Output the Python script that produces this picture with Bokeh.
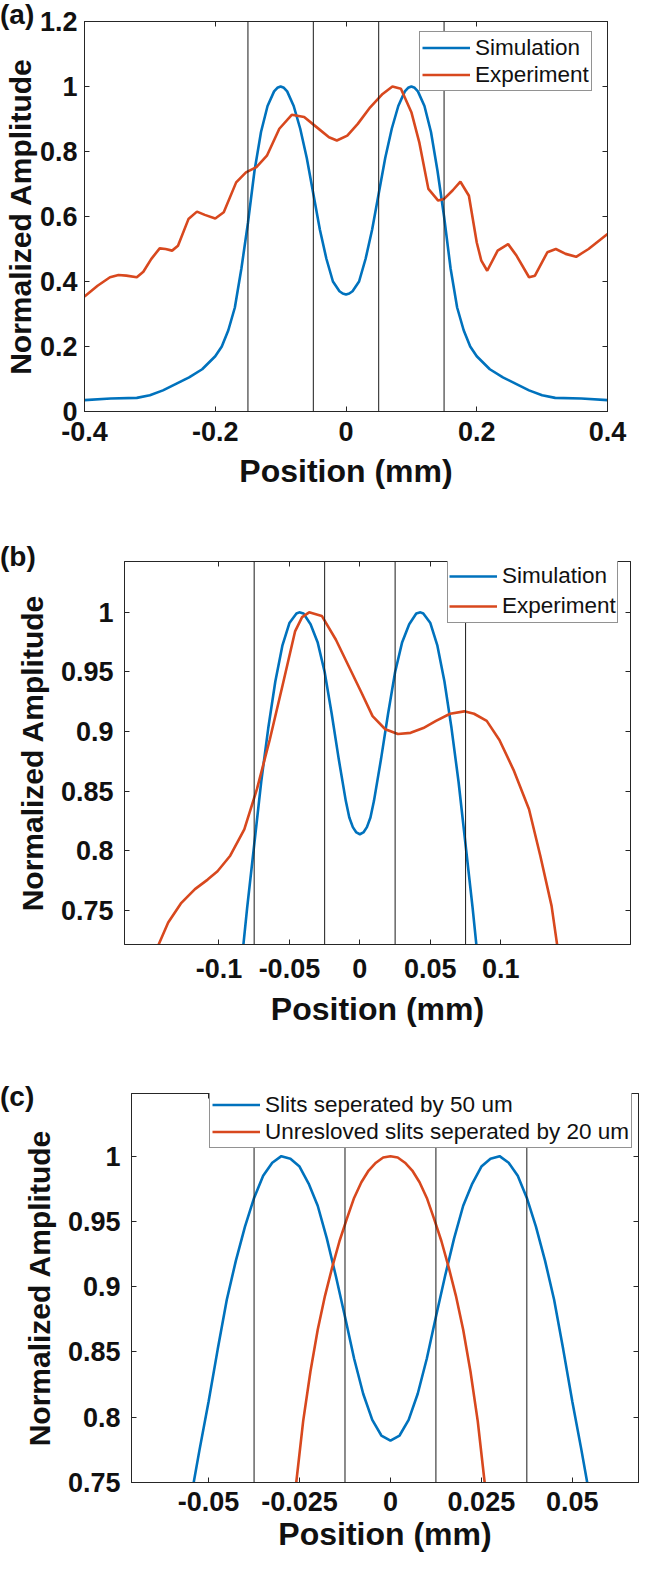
from bokeh.plotting import figure
from bokeh.models import (Range1d, FixedTicker, LinearAxis, Legend, LegendItem, Div,
                          Span, CustomJSTickFormatter, CustomLabelingPolicy)
from bokeh.layouts import column
from bokeh.embed import file_html
from bokeh.resources import INLINE

# ---------------- data ----------------
# panel (a)
a_sim_x = [-0.40, -0.36, -0.32, -0.30, -0.28, -0.26, -0.24, -0.22, -0.20, -0.19, -0.18, -0.17, -0.16,
           -0.15, -0.14, -0.13, -0.12, -0.11, -0.105, -0.10, -0.095, -0.09, -0.08, -0.07, -0.06, -0.05,
           -0.04, -0.03, -0.02, -0.01, -0.005, 0.00, 0.005, 0.01, 0.02, 0.03, 0.04, 0.05, 0.06, 0.07,
           0.08, 0.09, 0.095, 0.10, 0.105, 0.11, 0.12, 0.13, 0.14, 0.15, 0.16, 0.17, 0.18, 0.19, 0.20,
           0.22, 0.24, 0.26, 0.28, 0.30, 0.32, 0.36, 0.40]
a_sim_y = [0.035, 0.040, 0.042, 0.050, 0.065, 0.085, 0.105, 0.130, 0.170, 0.200, 0.250, 0.320, 0.440,
           0.580, 0.740, 0.860, 0.940, 0.985, 0.996, 1.000, 0.996, 0.985, 0.940, 0.870, 0.780, 0.670,
           0.560, 0.470, 0.400, 0.370, 0.363, 0.360, 0.363, 0.370, 0.400, 0.470, 0.560, 0.670, 0.780,
           0.870, 0.940, 0.985, 0.996, 1.000, 0.996, 0.985, 0.940, 0.860, 0.740, 0.600, 0.440, 0.320,
           0.250, 0.200, 0.170, 0.130, 0.105, 0.085, 0.065, 0.050, 0.042, 0.040, 0.035]
a_exp_x = [-0.400, -0.380, -0.361, -0.348, -0.336, -0.320, -0.310, -0.298, -0.285, -0.276, -0.266,
           -0.257, -0.241, -0.228, -0.216, -0.200, -0.187, -0.168, -0.153, -0.137, -0.121, -0.102,
           -0.083, -0.064, -0.045, -0.026, -0.014, 0.002, 0.018, 0.037, 0.056, 0.071, 0.084, 0.100,
           0.112, 0.126, 0.141, 0.150, 0.163, 0.175, 0.188, 0.200, 0.207, 0.216, 0.232, 0.248, 0.261,
           0.280, 0.289, 0.308, 0.321, 0.336, 0.352, 0.371, 0.400]
a_exp_y = [0.354, 0.387, 0.413, 0.420, 0.418, 0.413, 0.430, 0.469, 0.502, 0.500, 0.495, 0.510, 0.592,
           0.615, 0.605, 0.594, 0.613, 0.705, 0.736, 0.752, 0.787, 0.870, 0.913, 0.906, 0.875, 0.844,
           0.834, 0.849, 0.885, 0.936, 0.977, 1.000, 0.993, 0.921, 0.829, 0.685, 0.649, 0.654, 0.680,
           0.707, 0.664, 0.520, 0.464, 0.433, 0.495, 0.515, 0.479, 0.413, 0.418, 0.490, 0.500, 0.485,
           0.476, 0.500, 0.546]
a_slit_edges = [-0.15, -0.05, 0.05, 0.15]
a_xticks = [-0.4, -0.2, 0, 0.2, 0.4]
a_yticks = [0, 0.2, 0.4, 0.6, 0.8, 1, 1.2]
a_xlim = (-0.4, 0.4)
a_ylim = (0.0, 1.2)
a_labels = ["Simulation", "Experiment"]

# panel (b)
b_sim_x = [-0.0845, -0.080, -0.075, -0.070, -0.065, -0.060, -0.055, -0.050, -0.045, -0.043, -0.040,
           -0.035, -0.030, -0.025, -0.020, -0.015, -0.010, -0.0075, -0.005, -0.0025, 0.000, 0.0025,
           0.005, 0.0075, 0.010, 0.015, 0.020, 0.025, 0.030, 0.035, 0.040, 0.043, 0.045, 0.050, 0.055,
           0.060, 0.065, 0.070, 0.075, 0.080, 0.0845]
b_sim_y = [0.700, 0.752, 0.805, 0.858, 0.903, 0.942, 0.972, 0.991, 0.999, 1.000, 0.999, 0.990, 0.975,
           0.950, 0.915, 0.877, 0.842, 0.828, 0.820, 0.8155, 0.814, 0.8155, 0.820, 0.828, 0.842, 0.877,
           0.915, 0.950, 0.975, 0.990, 0.999, 1.000, 0.999, 0.991, 0.972, 0.942, 0.903, 0.858, 0.805,
           0.752, 0.700]
b_exp_x = [-0.146, -0.143, -0.136, -0.127, -0.117, -0.108, -0.101, -0.092, -0.082, -0.073, -0.064,
           -0.055, -0.046, -0.041, -0.036, -0.027, -0.017, -0.008, 0.001, 0.009, 0.018, 0.027, 0.036,
           0.045, 0.054, 0.064, 0.074, 0.081, 0.090, 0.099, 0.109, 0.120, 0.128, 0.136, 0.140, 0.141]
b_exp_y = [0.712, 0.721, 0.740, 0.756, 0.768, 0.776, 0.783, 0.796, 0.818, 0.852, 0.893, 0.938, 0.984,
           0.996, 1.000, 0.997, 0.977, 0.955, 0.933, 0.913, 0.902, 0.898, 0.899, 0.903, 0.909, 0.915,
           0.917, 0.915, 0.909, 0.893, 0.868, 0.835, 0.796, 0.754, 0.721, 0.712]
b_slit_edges = [-0.075, -0.025, 0.025, 0.075]
b_xticks = [-0.1, -0.05, 0, 0.05, 0.1]
b_yticks = [0.75, 0.8, 0.85, 0.9, 0.95, 1]
b_xlim = (-0.167, 0.192)
b_ylim = (0.7216, 1.0426)
b_labels = ["Simulation", "Experiment"]

# panel (c)
c_sim_x = [-0.0541, -0.0525, -0.0500, -0.0475, -0.0450, -0.0425, -0.0400, -0.0375, -0.0350, -0.0325,
           -0.0300, -0.0275, -0.0250, -0.0225, -0.0200, -0.0175, -0.0150, -0.0125, -0.0100, -0.0075,
           -0.0050, -0.0025, 0.0000, 0.0025, 0.0050, 0.0075, 0.0100, 0.0125, 0.0150, 0.0175, 0.0200,
           0.0225, 0.0250, 0.0275, 0.0300, 0.0325, 0.0350, 0.0375, 0.0400, 0.0425, 0.0450, 0.0475,
           0.0500, 0.0525, 0.0541]
c_sim_y = [0.750, 0.775, 0.812, 0.852, 0.890, 0.920, 0.946, 0.968, 0.985, 0.995, 1.000, 0.998, 0.992,
           0.979, 0.962, 0.937, 0.908, 0.877, 0.845, 0.818, 0.798, 0.786, 0.782, 0.786, 0.798, 0.818,
           0.845, 0.877, 0.908, 0.937, 0.962, 0.979, 0.992, 0.998, 1.000, 0.995, 0.985, 0.968, 0.946,
           0.920, 0.890, 0.852, 0.812, 0.775, 0.750]
c_exp_x = [-0.0259, -0.024, -0.022, -0.020, -0.018, -0.016, -0.014, -0.012, -0.010, -0.008, -0.006,
           -0.004, -0.002, 0.000, 0.002, 0.004, 0.006, 0.008, 0.010, 0.012, 0.014, 0.016, 0.018, 0.020,
           0.022, 0.024, 0.0259]
c_exp_y = [0.750, 0.797, 0.835, 0.867, 0.893, 0.915, 0.935, 0.952, 0.968, 0.980, 0.989, 0.995, 0.999,
           1.000, 0.999, 0.995, 0.989, 0.980, 0.968, 0.952, 0.935, 0.915, 0.893, 0.867, 0.835, 0.797,
           0.750]
c_slit_edges = [-0.0375, -0.0125, 0.0125, 0.0375]
c_xticks = [-0.05, -0.025, 0, 0.025, 0.05]
c_yticks = [0.75, 0.8, 0.85, 0.9, 0.95, 1]
c_xlim = (-0.0712, 0.0682)
c_ylim = (0.75, 1.048)
c_labels = ["Slits seperated by 50 um", "Unresloved slits seperated by 20 um"]

panel_tags = ["(a)", "(b)", "(c)"]
XLABEL = "Position (mm)"
YLABEL = "Normalized Amplitude"

# ---------------- style ----------------
BLUE = "#0072BD"
RED = "#D8481E"
AXC = "#262626"
TXT = "#111111"
FONT = "Liberation Sans"

HIDE_ALL = CustomLabelingPolicy(code="""
    const all = [...indices];
    for (const i of all) { indices.unset(i); }
    return indices;
""")


def style_axis(ax, ticks, show_labels, standoff):
    ax.ticker = FixedTicker(ticks=ticks)
    ax.formatter = CustomJSTickFormatter(code="return tick.toString();")
    ax.major_tick_in = 5
    ax.major_tick_out = 0
    ax.minor_tick_line_color = None
    ax.major_tick_line_color = AXC
    ax.axis_line_color = AXC
    ax.axis_line_width = 1
    ax.major_label_text_font = FONT
    ax.major_label_text_font_style = "bold"
    ax.major_label_text_color = TXT
    if show_labels:
        ax.major_label_text_font_size = "27px"
        ax.major_label_standoff = standoff
    else:
        ax.major_label_text_font_size = "1px"
        ax.major_label_standoff = 0
        ax.major_label_policy = HIDE_ALL


def panel(sim_x, sim_y, exp_x, exp_y, edges, xticks, yticks, xlim, ylim, labels,
          borders, frame, legend_loc, legend_row, legend_pad,
          ytick_standoff, ylab_standoff, xtick_standoff, xlab_standoff):
    bl, br, bt, bb = borders
    fw, fh = frame
    p = figure(frame_width=fw, frame_height=fh,
               min_border_left=bl, min_border_right=br, min_border_top=bt, min_border_bottom=bb,
               x_range=Range1d(*xlim), y_range=Range1d(*ylim),
               output_backend="svg", toolbar_location=None)
    p.frame_align = False
    p.xgrid.visible = False
    p.ygrid.visible = False
    p.outline_line_color = AXC
    p.outline_line_width = 1
    p.background_fill_color = "white"
    p.border_fill_color = "white"
    p.border_fill_alpha = 0.0

    xa = p.xaxis[0]
    ya = p.yaxis[0]
    style_axis(xa, xticks, True, xtick_standoff)
    style_axis(ya, yticks, True, ytick_standoff)
    xa.axis_label = XLABEL
    xa.axis_label_standoff = xlab_standoff
    xa.axis_label_text_font = FONT
    xa.axis_label_text_font_style = "bold"
    xa.axis_label_text_font_size = "32px"
    xa.axis_label_text_color = TXT
    ya.axis_label = YLABEL
    ya.axis_label_standoff = ylab_standoff
    ya.axis_label_text_font = FONT
    ya.axis_label_text_font_style = "bold"
    ya.axis_label_text_font_size = "30px"
    ya.axis_label_text_color = TXT

    top = LinearAxis()
    style_axis(top, xticks, False, 0)
    right = LinearAxis()
    style_axis(right, yticks, False, 0)
    p.add_layout(top, "above")
    p.add_layout(right, "right")

    for e in edges:
        p.add_layout(Span(location=e, dimension="height", line_color="#1a1a1a", line_width=1))

    r1 = p.line(sim_x, sim_y, line_color=BLUE, line_width=2.6)
    r2 = p.line(exp_x, exp_y, line_color=RED, line_width=2.6)

    leg = Legend(items=[LegendItem(label=labels[0], renderers=[r1]),
                        LegendItem(label=labels[1], renderers=[r2])],
                 location=legend_loc, orientation="vertical",
                 label_text_font=FONT, label_text_font_size="22.5px", label_text_color=TXT,
                 glyph_width=48, glyph_height=legend_row, label_height=legend_row,
                 label_standoff=5, padding=legend_pad, spacing=0, margin=0,
                 border_line_color=AXC, border_line_width=1,
                 background_fill_color="white", background_fill_alpha=1.0)
    p.add_layout(leg)
    return p


def tag_div(text, fig_height, top_offset):
    # panel tag drawn over the top-left corner of the figure just above it
    h = 30
    html = ('<div style="font-family:\'Liberation Sans\';font-weight:bold;font-size:28px;'
            'line-height:30px;color:%s;white-space:nowrap">%s</div>' % (TXT, text))
    up = fig_height - top_offset
    return Div(text=html, width=50, height=h, margin=(-up, 0, up - h, 0))


pa = panel(a_sim_x, a_sim_y, a_exp_x, a_exp_y, a_slit_edges, a_xticks, a_yticks, a_xlim, a_ylim,
           a_labels, borders=(78, 39, 21, 129), frame=(523, 390),
           legend_loc=(335, 320), legend_row=27, legend_pad=2,
           ytick_standoff=7, ylab_standoff=0, xtick_standoff=10, xlab_standoff=9)
pb = panel(b_sim_x, b_sim_y, b_exp_x, b_exp_y, b_slit_edges, b_xticks, b_yticks, b_xlim, b_ylim,
           b_labels, borders=(124, 10, 21, 136), frame=(506, 383),
           legend_loc=(323, 321), legend_row=30, legend_pad=1,
           ytick_standoff=11, ylab_standoff=9, xtick_standoff=14, xlab_standoff=10)
pc = panel(c_sim_x, c_sim_y, c_exp_x, c_exp_y, c_slit_edges, c_xticks, c_yticks, c_xlim, c_ylim,
           c_labels, borders=(131, 2, 13, 77), frame=(507, 389),
           legend_loc=(78, 334), legend_row=27, legend_pad=2,
           ytick_standoff=11, ylab_standoff=9, xtick_standoff=9, xlab_standoff=2)

ta = tag_div(panel_tags[0], 540, 0)
tb = tag_div(panel_tags[1], 540, 2)
tc = tag_div(panel_tags[2], 479, 2)

layout = column(pa, ta, pb, tb, pc, tc, spacing=0)
open("out.html", "w").write(file_html(layout, INLINE, title="Normalized Amplitude"))
